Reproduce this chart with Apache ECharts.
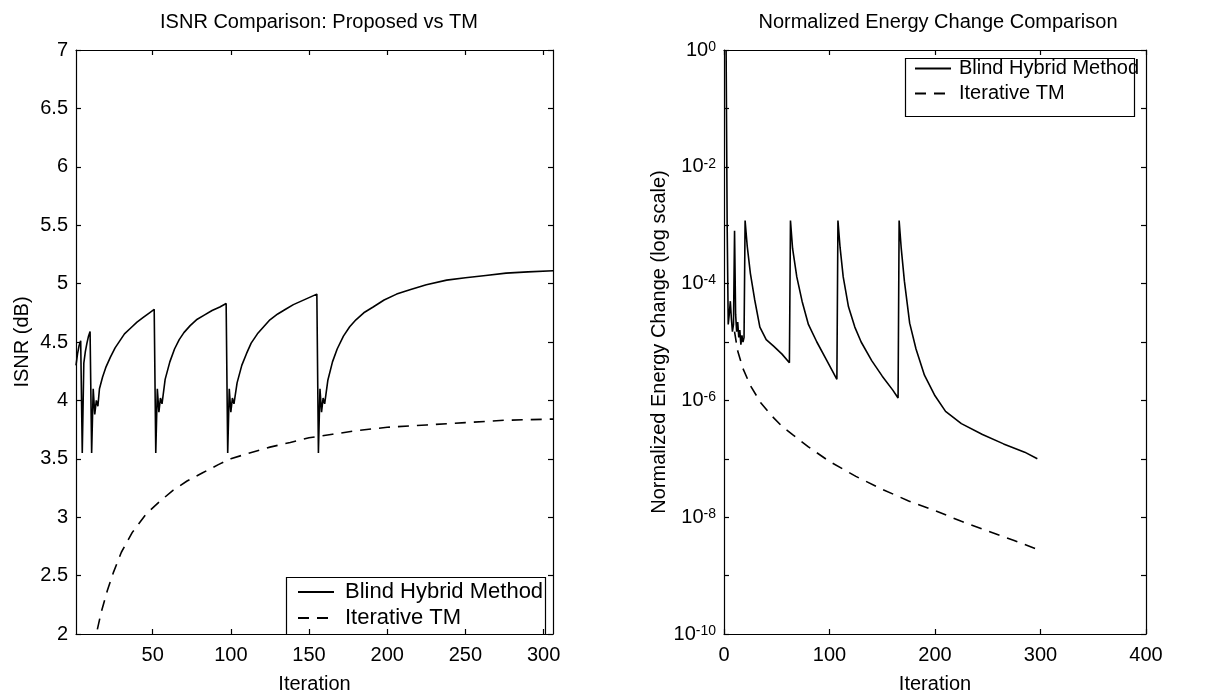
<!DOCTYPE html>
<html>
<head>
<meta charset="utf-8">
<script src="https://cdn.jsdelivr.net/npm/echarts@6/dist/echarts.min.js"></script>
<style>
html,body{margin:0;padding:0;background:#fff;}
#c{width:1226px;height:699px;}
</style>
</head>
<body>
<div id="c"></div>
<script>
// ---- Left panel: ISNR (dB) vs iteration ----
const isnrBlindIter = [1,2,3,4,5,6,7,8,9,10,11,12,13,14,15,16,18,20,23,26,29,32,36,40,44,48,51,
  52,53,54,55,56,58,61,64,67,70,74,78,83,88,93,97,
  98,99,100,101,102,104,107,110,113,117,121,125,130,135,140,145,150,155,
  156,157,158,159,160,162,165,168,172,176,180,185,191,198,206,215,225,238,250,263,276,290,306];
const isnrBlind = [4.30,4.40,4.47,4.51,3.55,4.32,4.42,4.49,4.55,4.59,3.55,4.10,3.88,4.00,3.95,4.10,4.20,4.28,4.37,4.45,4.51,4.57,4.62,4.67,4.71,4.75,4.78,
  3.55,4.10,3.90,4.02,3.97,4.18,4.33,4.44,4.52,4.58,4.64,4.69,4.73,4.77,4.80,4.83,
  3.55,4.10,3.90,4.02,3.97,4.15,4.30,4.40,4.49,4.57,4.63,4.69,4.74,4.78,4.82,4.85,4.88,4.91,
  3.55,4.10,3.90,4.02,3.97,4.17,4.33,4.44,4.55,4.63,4.69,4.75,4.80,4.86,4.91,4.95,4.99,5.03,5.05,5.07,5.09,5.10,5.11];
const isnrTMIter = [6,8,11,14,17,21,25,30,37,46,55,63,72,82,92,100,112,125,138,150,165,180,200,225,250,275,306];
const isnrTM = [1.40,1.60,1.82,2.00,2.18,2.37,2.53,2.70,2.87,3.03,3.14,3.23,3.31,3.38,3.45,3.50,3.55,3.60,3.64,3.68,3.71,3.74,3.77,3.79,3.81,3.83,3.84];

// ---- Right panel: normalized energy change (log scale) ----
const energyBlindIter = [2,3,4,5,6,7,8,9,10,11,12,13,14,15,16,17,18,19,20,22,25,29,34,40,47,55,62,
  63,65,69,74,80,88,97,107,
  108,110,113,118,124,130,140,150,160,165,
  166,168,171,176,182,190,200,210,225,245,265,285,297];
const energyBlind = [1.0,1e-3,2e-5,3e-5,5e-5,2.5e-5,1.5e-5,2e-5,8e-4,3e-5,1.5e-5,2.2e-5,1.2e-5,1.6e-5,9e-6,1.3e-5,1e-5,1.2e-5,1.2e-3,4.4e-4,1.5e-4,5.4e-5,1.8e-5,1.1e-5,8.5e-6,6.2e-6,4.4e-6,
  1.2e-3,4e-4,1.3e-4,5e-5,2e-5,1e-5,5e-6,2.3e-6,
  1.2e-3,4.2e-4,1.3e-4,4e-5,1.8e-5,1e-5,4.8e-6,2.6e-6,1.5e-6,1.1e-6,
  1.2e-3,4e-4,1.1e-4,2.1e-5,7.6e-6,2.7e-6,1.2e-6,6.5e-7,4e-7,2.6e-7,1.8e-7,1.3e-7,1e-7];
const energyTMIter = [10,13,18,25,35,45,55,65,80,100,125,150,175,200,225,250,275,297];
const energyTM = [1.5e-5,7e-6,3.5e-6,1.8e-6,9e-7,5.5e-7,3.6e-7,2.6e-7,1.6e-7,9e-8,5e-8,3e-8,1.9e-8,1.3e-8,8.5e-9,5.8e-9,4e-9,2.8e-9];

// ---- Tick labels / texts ----
const isnrXTicks = [50,100,150,200,250,300];
const seriesNames = ['Blind Hybrid Method','Iterative TM'];
const titles = ['ISNR Comparison: Proposed vs TM','Normalized Energy Change Comparison'];

const pairs = (xs, ys) => xs.map((x, i) => [x, ys[i]]);
const FONT = 'Liberation Sans, Arial, Helvetica, sans-serif';
const FS = 20;
const black = '#000';

const axisLineS = {show:true, onZero:false, lineStyle:{color:black, width:1.2}};
const tickS = {show:true, inside:true, length:5, lineStyle:{color:black, width:1.2}};
const lblS = {color:black, fontFamily:FONT, fontSize:FS};

function supLabel(v){
  const e = Math.round(Math.log10(v));
  if (e % 2 !== 0) return '';
  return '{b|10}{s|' + e + '}';
}
const richSup = {
  b:{fontFamily:FONT, fontSize:FS, lineHeight:20, verticalAlign:'bottom', color:black},
  s:{fontFamily:FONT, fontSize:14, lineHeight:14, padding:[0,0,14,0], verticalAlign:'top', color:black}
};

function legendAt(left, top, fs, gap){
  return {data:seriesNames, orient:'vertical', left:left, top:top, itemWidth:36, itemHeight:14, itemGap:4,
    padding:0, borderWidth:0, itemStyle:{opacity:0},
    textStyle:{fontFamily:FONT, fontSize:fs, lineHeight:21, color:black, padding:[0,0,0,gap]}};
}

const chart = echarts.init(document.getElementById('c'), null, {renderer:'canvas'});
chart.setOption({
  backgroundColor:'#fff',
  animation:false,
  title:[
    {text:titles[0], left:314, top:7, textAlign:'center', textStyle:{fontFamily:FONT, fontSize:20, fontWeight:'normal', color:black}},
    {text:titles[1], left:933, top:7, textAlign:'center', textStyle:{fontFamily:FONT, fontSize:20, fontWeight:'normal', color:black}}
  ],
  grid:[
    {left:76, top:50, width:477, height:592},
    {left:724, top:50, width:422, height:592}
  ],
  legend:[
    legendAt(297, 581, 22, 6),
    legendAt(914, 58, 20, 3)
  ],
  graphic:[
    {type:'rect', left:284, top:575, z:10, shape:{width:259, height:57}, style:{fill:'none', stroke:black, lineWidth:1.2}},
    {type:'rect', left:903, top:56, z:10, shape:{width:229, height:58}, style:{fill:'none', stroke:black, lineWidth:1.2}}
  ],
  xAxis:[
    {gridIndex:0, type:'value', min:1, max:306, position:'bottom',
     axisLine:axisLineS, axisTick:Object.assign({customValues:isnrXTicks}, tickS),
     axisLabel:Object.assign({customValues:isnrXTicks, margin:11}, lblS), splitLine:{show:false},
     name:'Iteration', nameLocation:'middle', nameGap:40, nameTextStyle:{fontFamily:FONT, fontSize:FS, color:black}},
    {gridIndex:0, type:'value', min:1, max:306, position:'top',
     axisLine:axisLineS, axisTick:Object.assign({customValues:isnrXTicks}, tickS),
     axisLabel:{show:false}, splitLine:{show:false}},
    {gridIndex:1, type:'value', min:0, max:400, interval:100, position:'bottom',
     axisLine:axisLineS, axisTick:tickS, axisLabel:Object.assign({margin:11}, lblS), splitLine:{show:false},
     name:'Iteration', nameLocation:'middle', nameGap:40, nameTextStyle:{fontFamily:FONT, fontSize:FS, color:black}},
    {gridIndex:1, type:'value', min:0, max:400, interval:100, position:'top',
     axisLine:axisLineS, axisTick:tickS, axisLabel:{show:false}, splitLine:{show:false}}
  ],
  yAxis:[
    {gridIndex:0, type:'value', min:2, max:7, interval:0.5, position:'left',
     axisLine:axisLineS, axisTick:tickS, axisLabel:Object.assign({margin:8}, lblS), splitLine:{show:false},
     name:'ISNR (dB)', nameLocation:'middle', nameGap:44, nameTextStyle:{fontFamily:FONT, fontSize:FS, color:black}},
    {gridIndex:0, type:'value', min:2, max:7, interval:0.5, position:'right',
     axisLine:axisLineS, axisTick:tickS, axisLabel:{show:false}, splitLine:{show:false}},
    {gridIndex:1, type:'log', logBase:10, min:1e-10, max:1, interval:1, position:'left',
     axisLine:axisLineS, axisTick:tickS,
     axisLabel:{formatter:supLabel, rich:richSup, margin:8, showMinLabel:true, showMaxLabel:true},
     splitLine:{show:false},
     name:'Normalized Energy Change (log scale)', nameLocation:'middle', nameGap:55,
     nameTextStyle:{fontFamily:FONT, fontSize:FS, color:black}},
    {gridIndex:1, type:'log', logBase:10, min:1e-10, max:1, interval:1, position:'right',
     axisLine:axisLineS, axisTick:tickS, axisLabel:{show:false}, splitLine:{show:false}}
  ],
  series:[
    {name:seriesNames[0], type:'line', xAxisIndex:0, yAxisIndex:0, data:pairs(isnrBlindIter, isnrBlind),
     symbol:'none', clip:true, lineStyle:{color:black, width:1.6}, itemStyle:{color:black}},
    {name:seriesNames[1], type:'line', xAxisIndex:0, yAxisIndex:0, data:pairs(isnrTMIter, isnrTM),
     symbol:'none', clip:true, lineStyle:{color:black, width:1.6, type:[11,8]}, itemStyle:{color:black}},
    {name:seriesNames[0], type:'line', xAxisIndex:2, yAxisIndex:2, data:pairs(energyBlindIter, energyBlind),
     symbol:'none', clip:true, lineStyle:{color:black, width:1.6}, itemStyle:{color:black}},
    {name:seriesNames[1], type:'line', xAxisIndex:2, yAxisIndex:2, data:pairs(energyTMIter, energyTM),
     symbol:'none', clip:true, lineStyle:{color:black, width:1.6, type:[11,8]}, itemStyle:{color:black}}
  ]
});
</script>
</body>
</html>
